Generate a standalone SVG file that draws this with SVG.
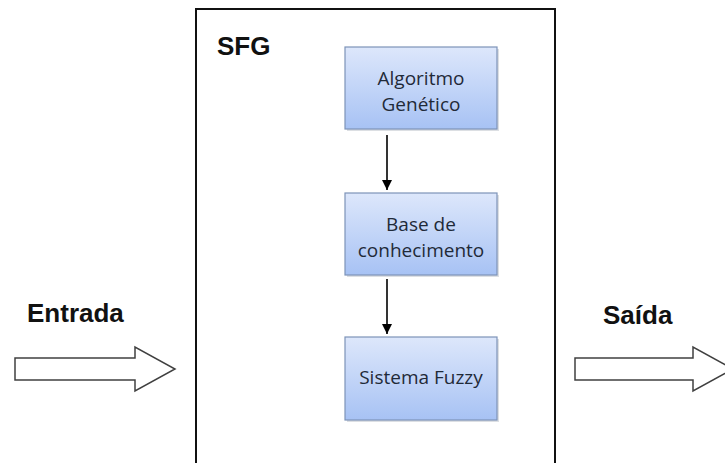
<svg xmlns="http://www.w3.org/2000/svg" width="725" height="463" viewBox="0 0 725 463">
  <style>
    .lbl { font-family: "Liberation Sans", Arial, sans-serif; font-weight: bold; font-size: 26px; fill: #111; }
    .ntxt { font-family: "Open Sans", "Liberation Sans", sans-serif; font-size: 19px; fill: #1f2a38; text-anchor: middle; }
    .nbox { fill: url(#blueGrad); stroke: #7d93b8; stroke-width: 1.2; }
    .shadow { fill: #9aa3b0; opacity: 0.35; }
    .conn { stroke: #000; stroke-width: 1.6; fill: none; }
    .block { fill: #fff; stroke: #404040; stroke-width: 1.5; stroke-linejoin: miter; }
  </style>
  <defs>
    <linearGradient id="blueGrad" x1="0" y1="0" x2="0" y2="1">
      <stop offset="0" stop-color="#dde7fb"/>
      <stop offset="1" stop-color="#a7c2f4"/>
    </linearGradient>
    <marker id="arrowHead" markerWidth="10" markerHeight="14" refX="10" refY="5" orient="auto" markerUnits="userSpaceOnUse" viewBox="0 0 10 10">
      <path d="M0,0 L10,5 L0,10 Z" fill="#000"/>
    </marker>
  </defs>
  <rect width="725" height="463" fill="#fff"/>

  <g id="sfg">
    <rect x="196" y="9" width="359" height="470" fill="#fff" stroke="#111" stroke-width="2"/>
    <text class="lbl" x="217" y="55">SFG</text>
  </g>

  <g id="entrada">
    <text class="lbl" x="27" y="322">Entrada</text>
    <polygon class="block" points="15,358 135,358 135,347 175,369 135,391 135,380 15,380"/>
  </g>

  <g id="saida">
    <text class="lbl" x="603" y="324">Saída</text>
    <polygon class="block" points="575,358 693,358 693,347 733,369 693,391 693,380 575,380"/>
  </g>

  <g id="algoritmo">
    <rect class="shadow" x="347" y="49" width="152" height="82"/>
    <rect class="nbox" x="345" y="47" width="152" height="82"/>
    <text class="ntxt" x="421" y="85">Algoritmo</text>
    <text class="ntxt" x="421" y="111">Genético</text>
  </g>

  <g id="base">
    <rect class="shadow" x="347" y="195" width="152" height="82"/>
    <rect class="nbox" x="345" y="193" width="152" height="82"/>
    <text class="ntxt" x="421" y="231">Base de</text>
    <text class="ntxt" x="421" y="257">conhecimento</text>
  </g>

  <g id="fuzzy">
    <rect class="shadow" x="347" y="339" width="152" height="83"/>
    <rect class="nbox" x="345" y="337" width="152" height="83"/>
    <text class="ntxt" x="421" y="384">Sistema Fuzzy</text>
  </g>

  <g id="connectors">
    <line class="conn" x1="387" y1="135" x2="387" y2="190" marker-end="url(#arrowHead)"/>
    <line class="conn" x1="387" y1="279" x2="387" y2="334" marker-end="url(#arrowHead)"/>
  </g>
</svg>
